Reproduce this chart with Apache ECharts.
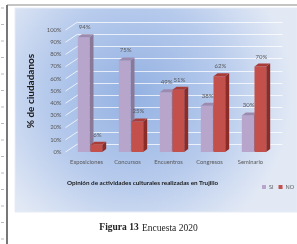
<!DOCTYPE html>
<html><head><meta charset="utf-8">
<script src="https://cdn.jsdelivr.net/npm/echarts@6/dist/echarts.min.js"></script>
<style>html,body{margin:0;padding:0;background:#fff}#c{width:297px;height:244px}</style>
</head><body><div id="c"></div>
<script>
const categories = ['Exposiciones','Concursos','Encuentros','Congresos','Seminario'];
const siValues = [94, 75, 49, 38, 30];
const noValues = [6, 25, 51, 62, 70];
const seriesNames = ['SI', 'NO'];
const yTicks = [0,10,20,30,40,50,60,70,80,90,100];

const colors = {
  SI: {front:'#B7A5CB', side:'#8A7899', top:'#9D8BAF'},
  NO: {front:'#C4504C', side:'#8C2C29', top:'#A83C38'}
};
const DX = 4, DY = 3;

function bar3d(idx){
  const c = colors[seriesNames[idx]];
  return function(params, api){
    const i = api.value(0), v = api.value(1);
    const base = api.coord([i, 0]);
    const top = api.coord([i, v]);
    const band = api.size([1, 0])[0];
    const w = band * 0.285;
    const x0 = idx === 0 ? base[0] - w - 0.5 : base[0] + 0.5;
    const yt = top[1], yb = base[1];
    return {type:'group', children:[
      {type:'polygon', shape:{points:[[x0+w,yt],[x0+w+DX,yt-DY],[x0+w+DX,yb-DY],[x0+w,yb]]}, style:{fill:c.side}},
      {type:'rect', shape:{x:x0, y:yt, width:w, height:yb-yt}, style:{fill:c.front}},
      {type:'polygon', shape:{points:[[x0,yt],[x0+DX,yt-DY],[x0+w+DX,yt-DY],[x0+w,yt]]}, style:{fill:c.top}},
      {type:'text', x:x0 + w/2 + 1, y:yt - 10, style:{text:v + '%', fill:'#595959', font:'6px Lato, sans-serif', align:'center', verticalAlign:'middle'}}
    ]};
  };
}

function diag(params, api){
  const v = api.value(0);
  const p = api.coord([0, v]);
  const cs = params.coordSys;
  return {type:'line', shape:{x1:cs.x-4, y1:p[1], x2:cs.x+8, y2:p[1]-8}, style:{stroke:'rgba(255,255,255,0.75)', lineWidth:1}};
}

const rulerTicks = [];
for (let k = 0; k < 15; k++) {
  rulerTicks.push({type:'line', shape:{x1:1, y1:8 + k*16.5, x2:4, y2:8 + k*16.5}, style:{stroke:'#bbb', lineWidth:1}});
}

const chart = echarts.init(document.getElementById('c'), null, {renderer:'canvas'});
chart.setOption({
  animation:false,
  graphic:[
    {type:'rect', shape:{x:15, y:8, width:282, height:204}, z:-10,
     style:{fill:{type:'radial', x:0.42, y:0.42, r:0.78, colorStops:[{offset:0,color:'#93B1E2'},{offset:0.55,color:'#B6CAEC'},{offset:1,color:'#E2E9F5'}]}, stroke:'#E6ECF6', lineWidth:1}},
    {type:'line', shape:{x1:7, y1:5, x2:297, y2:5}, style:{stroke:'#8a8a8a', lineWidth:1}},
    {type:'line', shape:{x1:7, y1:5, x2:7, y2:244}, style:{stroke:'#777', lineWidth:2}},
    ...rulerTicks,
    {type:'text', left:'center', x:0, top:222, style:{rich:{b:{font:'bold 9.5px "Liberation Serif", serif', fill:'#222'}, n:{font:'9.5px "Liberation Serif", serif', fill:'#222'}}, text:'{b|Figura 13} {n|Encuesta 2020}'}},
    {type:'text', left:67, top:180, style:{text:'Opinión de actividades culturales realizadas en Trujillo', font:'bold 6.3px Lato, sans-serif', fill:'#1a1a1a'}}
  ],
  legend:{data:seriesNames, orient:'horizontal', left:262, top:184, width:40, itemWidth:4, itemHeight:4, itemGap:5, textStyle:{fontSize:5.5, color:'#595959', fontFamily:'Lato', padding:[0,0,0,-2]}, icon:'rect', padding:0},
  grid:[
    {left:69.5, right:22.5, top:30, bottom:92},
    {left:77.5, right:14.5, top:22, bottom:100}
  ],
  xAxis:[
    {type:'category', gridIndex:0, data:categories, axisLine:{show:false}, axisTick:{show:false},
     axisLabel:{fontSize:5.8, color:'#595959', fontFamily:'Lato', margin:7, padding:[0,7,0,0], interval:0}},
    {type:'category', gridIndex:1, data:categories, show:false}
  ],
  yAxis:[
    {type:'value', gridIndex:0, min:0, max:100, interval:10, splitLine:{show:false}, axisLine:{show:false}, axisTick:{show:false},
     axisLabel:{formatter:'{value}%', fontSize:5.8, color:'#595959', fontFamily:'Lato', margin:8},
     name:'% de ciudadanos', nameLocation:'middle', nameRotate:90, nameGap:27,
     nameTextStyle:{fontSize:10, fontWeight:'bold', color:'#1a1a1a', fontFamily:'Lato'}},
    {type:'value', gridIndex:1, min:0, max:100, interval:10, axisLine:{show:false}, axisTick:{show:false}, axisLabel:{show:false},
     splitLine:{show:true, lineStyle:{color:'rgba(255,255,255,0.75)', width:1}}}
  ],
  series:[
    {type:'custom', xAxisIndex:0, yAxisIndex:0, renderItem:diag, data:yTicks.map(v=>[v]), encode:{y:0}, silent:true, z:1},
    {name:'SI', type:'custom', xAxisIndex:0, yAxisIndex:0, renderItem:bar3d(0), itemStyle:{color:colors.SI.front},
     data:siValues.map((v,i)=>[i,v]), encode:{x:0,y:1}, z:3},
    {name:'NO', type:'custom', xAxisIndex:0, yAxisIndex:0, renderItem:bar3d(1), itemStyle:{color:colors.NO.front},
     data:noValues.map((v,i)=>[i,v]), encode:{x:0,y:1}, z:4}
  ]
});
</script></body></html>
